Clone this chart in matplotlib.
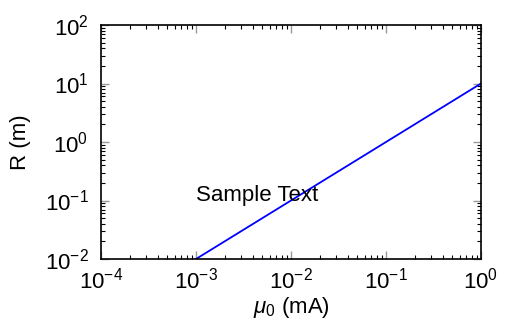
import matplotlib
matplotlib.use('Agg')
import matplotlib.pyplot as plt

plt.rcParams['font.family'] = ['Liberation Sans', 'DejaVu Sans']
plt.rcParams['mathtext.fontset'] = 'custom'
plt.rcParams['mathtext.rm'] = 'Liberation Sans'
plt.rcParams['mathtext.it'] = 'Liberation Sans:italic'
plt.rcParams['mathtext.bf'] = 'Liberation Sans:bold'

mu0 = [1e-3, 1.0]
R = [1e-2, 10.0]

fig = plt.figure(figsize=(5.12, 3.33), dpi=100)
ax = fig.add_axes([101 / 512, 1 - 259 / 333, 380 / 512, 234 / 333])
ax.plot(mu0, R, color='blue', lw=1.3)
ax.set_xscale('log')
ax.set_yscale('log')
ax.set_xlim(1e-4, 1)
ax.set_ylim(1e-2, 1e2)
ax.text(1e-3, 1e-1, 'Sample Text', fontsize=16, ha='left', va='baseline')
ax.set_xlabel(r'$\mu_0$ (mA)', fontsize=16, labelpad=1)
ax.set_ylabel('R (m)', fontsize=16, labelpad=10)
ax.tick_params(which='both', direction='in', top=True, right=True, labelsize=16)
ax.tick_params(axis='x', which='major', pad=6)
ax.tick_params(axis='y', which='major', pad=9)
ax.tick_params(which='major', length=6, color='#999999', width=1)
ax.tick_params(which='minor', length=3, width=0.8)
for s in ax.spines.values():
    s.set_linewidth(1.2)

fig.savefig('out.png', dpi=100)
